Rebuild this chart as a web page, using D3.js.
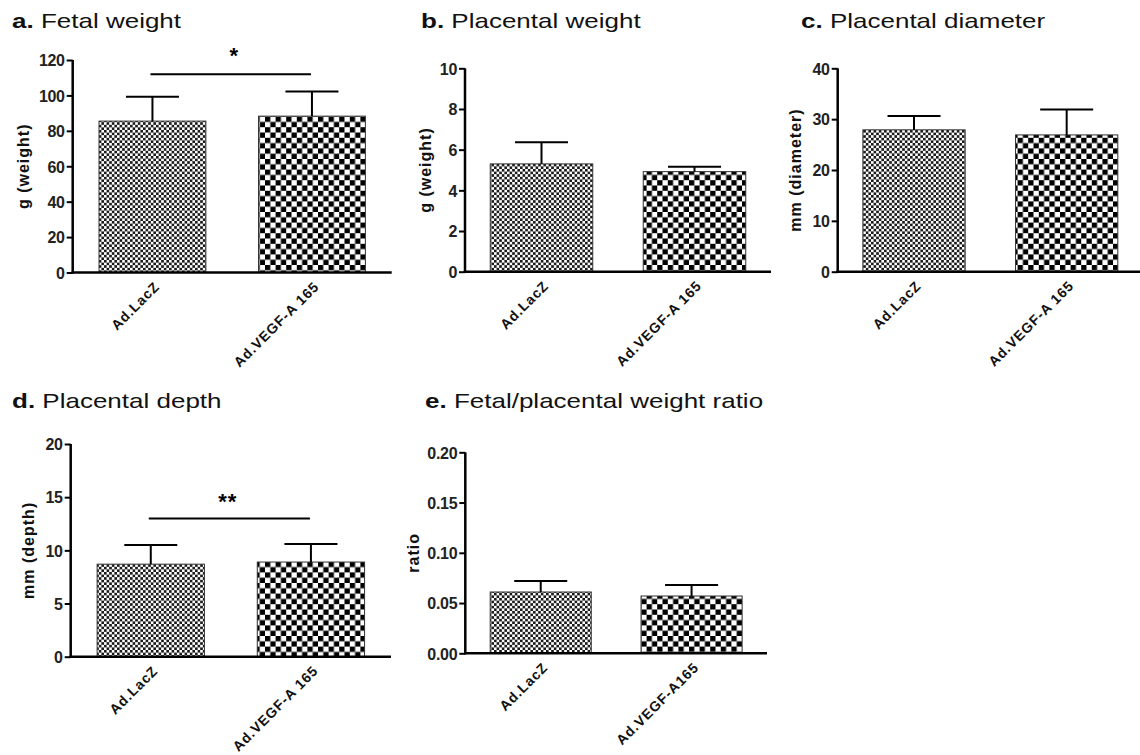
<!DOCTYPE html>
<html>
<head>
<meta charset="utf-8">
<script src="https://cdn.jsdelivr.net/npm/d3@7"></script>
<style>
  body { margin: 0; background: #fff; }
  svg { display: block; font-family: "Liberation Sans", Arial, sans-serif; }
</style>
</head>
<body>
<svg id="chart" width="1140" height="755"></svg>
<script>
// ---- data ----
const categories = ["Ad.LacZ", "Ad.VEGF-A 165"];
const categoriesE = ["Ad.LacZ", "Ad.VEGF-A165"];

const fetalWeight = [85.5, 88.3];
const fetalWeightErr = [13.8, 13.9];
const fetalTicks = [0, 20, 40, 60, 80, 100, 120];

const placentalWeight = [5.3, 4.92];
const placentalWeightErr = [1.06, 0.24];
const placentalWeightTicks = [0, 2, 4, 6, 8, 10];

const placentalDiameter = [27.9, 26.9];
const placentalDiameterErr = [2.7, 5.0];
const diameterTicks = [0, 10, 20, 30, 40];

const placentalDepth = [8.7, 8.9];
const placentalDepthErr = [1.8, 1.7];
const depthTicks = [0, 5, 10, 15, 20];

const ratio = [0.061, 0.057];
const ratioErr = [0.011, 0.011];
const ratioTicks = [0, 0.05, 0.10, 0.15, 0.20];

const panels = [
  { letter: "a.", title: " Fetal weight", cats: categories, values: fetalWeight, errs: fetalWeightErr,
    ticks: fetalTicks, fmt: d3.format("d"), ylabel: "g (weight)",
    titleX: 12, titleY: 28, ax: 72.7, axEnd: 391.7, yTop: 60, yBot: 272.5, ylabX: 25,
    sig: { text: "*", y: 112, textY: 63, dx: 2 } },
  { letter: "b.", title: " Placental weight", cats: categories, values: placentalWeight, errs: placentalWeightErr,
    ticks: placentalWeightTicks, fmt: d3.format("d"), ylabel: "g (weight)",
    titleX: 421, titleY: 28, ax: 465, axEnd: 771, yTop: 68.3, yBot: 271.7, ylabX: 427 },
  { letter: "c.", title: " Placental diameter", cats: categories, values: placentalDiameter, errs: placentalDiameterErr,
    ticks: diameterTicks, fmt: d3.format("d"), ylabel: "mm (diameter)",
    titleX: 801, titleY: 28, ax: 837.7, axEnd: 1143, yTop: 68.3, yBot: 271.7, ylabX: 797 },
  { letter: "d.", title: " Placental depth", cats: categories, values: placentalDepth, errs: placentalDepthErr,
    ticks: depthTicks, fmt: d3.format("d"), ylabel: "mm (depth)",
    titleX: 12, titleY: 408, ax: 70.7, axEnd: 391, yTop: 444, yBot: 656.7, ylabX: 30,
    sig: { text: "**", y: 13.0, textY: 509, dx: -3 } },
  { letter: "e.", title: " Fetal/placental weight ratio", cats: categoriesE, values: ratio, errs: ratioErr,
    ticks: ratioTicks, fmt: d3.format(".2f"), ylabel: "ratio",
    titleX: 425, titleY: 408, ax: 465.3, axEnd: 767, yTop: 452.3, yBot: 653.3, ylabX: 415 }
];

const svg = d3.select("#chart");
const defs = svg.append("defs");

function checker(id, cell, dark) {
  const p = defs.append("pattern").attr("id", id)
    .attr("patternUnits", "userSpaceOnUse")
    .attr("width", cell * 2).attr("height", cell * 2);
  p.append("rect").attr("width", cell * 2).attr("height", cell * 2).attr("fill", "#fff");
  p.append("rect").attr("x", 0).attr("y", 0).attr("width", cell).attr("height", cell).attr("fill", dark);
  p.append("rect").attr("x", cell).attr("y", cell).attr("width", cell).attr("height", cell).attr("fill", dark);
}
checker("fine", 2.6, "#1a1a1a");
checker("coarse", 5.3, "#000");
const fills = ["url(#fine)", "url(#coarse)"];

panels.forEach(P => {
  const g = svg.append("g");
  const ymax = P.ticks[P.ticks.length - 1];
  const y = d3.scaleLinear().domain([0, ymax]).range([P.yBot, P.yTop]);
  const x = d3.scaleBand().domain(P.cats).range([P.ax, P.axEnd]).paddingInner(0.33).paddingOuter(0.165);

  // title (horizontally stretched like the reference)
  const t = g.append("text").attr("transform", `translate(${P.titleX},${P.titleY}) scale(1.3,1)`)
    .attr("font-size", 20).attr("fill", "#111");
  t.append("tspan").attr("font-weight", "bold").text(P.letter);
  t.append("tspan").text(P.title);

  // bars
  g.selectAll("rect.bar").data(P.values).join("rect")
    .attr("class", "bar")
    .attr("x", (d, i) => x(P.cats[i]))
    .attr("y", d => y(d))
    .attr("width", x.bandwidth())
    .attr("height", d => y(0) - y(d))
    .attr("fill", (d, i) => fills[i])
    .attr("stroke", "#333").attr("stroke-width", 1);

  // error bars
  const capW = 53;
  P.values.forEach((v, i) => {
    const cx = x(P.cats[i]) + x.bandwidth() / 2;
    const top = y(v + P.errs[i]);
    g.append("line").attr("x1", cx).attr("x2", cx).attr("y1", y(v)).attr("y2", top)
      .attr("stroke", "#000").attr("stroke-width", 2);
    g.append("line").attr("x1", cx - capW / 2).attr("x2", cx + capW / 2).attr("y1", top).attr("y2", top)
      .attr("stroke", "#000").attr("stroke-width", 2);
  });

  // y axis
  const yAxis = d3.axisLeft(y).tickValues(P.ticks).tickFormat(P.fmt).tickSize(6).tickPadding(2);
  const ya = g.append("g").attr("transform", `translate(${P.ax},0)`).call(yAxis);
  ya.select(".domain").attr("stroke", "#000").attr("stroke-width", 2.5)
    .attr("d", `M0,${P.yTop}V${P.yBot + 1}`);
  ya.selectAll(".tick line").attr("stroke", "#000").attr("stroke-width", 2);
  ya.selectAll(".tick text").attr("font-size", 16).attr("font-weight", "bold")
    .attr("fill", "#222").attr("font-family", "'Liberation Sans', Arial, sans-serif")
    .attr("letter-spacing", -0.3)
    .attr("dy", "0.36em");

  // x axis line
  const xa = g.append("g").attr("transform", `translate(0,${P.yBot})`)
    .call(d3.axisBottom(x).tickSize(0).tickFormat(""));
  xa.select(".domain").attr("stroke", "#000").attr("stroke-width", 2.5)
    .attr("d", `M${P.ax - 1.25},0H${P.axEnd}`);
  xa.selectAll(".tick text").remove();

  // category labels
  P.cats.forEach((c, i) => {
    const cx = x(c) + x.bandwidth() / 2;
    g.append("text")
      .attr("transform", `translate(${cx + 8},${P.yBot + 15}) rotate(-45)`)
      .attr("text-anchor", "end")
      .attr("font-size", 14).attr("font-weight", "bold").attr("letter-spacing", 0.9)
      .attr("fill", "#111")
      .text(c);
  });

  // y label
  g.append("text")
    .attr("transform", `translate(${P.ylabX},${(P.yTop + P.yBot) / 2}) rotate(-90)`)
    .attr("text-anchor", "middle").attr("dominant-baseline", "middle")
    .attr("font-size", 16).attr("font-weight", "bold").attr("letter-spacing", 1)
    .attr("fill", "#111")
    .text(P.ylabel);

  // significance
  if (P.sig) {
    const c0 = x(P.cats[0]) + x.bandwidth() / 2;
    const c1 = x(P.cats[1]) + x.bandwidth() / 2;
    const sy = P.sig.y;
    g.append("line").attr("x1", c0 - 2).attr("x2", c1 - 1).attr("y1", y(sy)).attr("y2", y(sy))
      .attr("stroke", "#000").attr("stroke-width", 2);
    g.append("text").attr("x", (c0 + c1) / 2 + P.sig.dx).attr("y", P.sig.textY)
      .attr("text-anchor", "middle").attr("font-size", 22).attr("font-weight", "bold")
      .attr("letter-spacing", 1).text(P.sig.text);
  }
});
</script>
</body>
</html>
